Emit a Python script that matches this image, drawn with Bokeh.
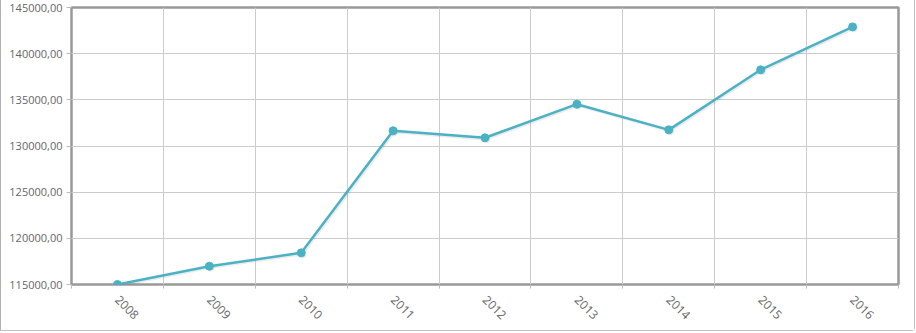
from bokeh.plotting import figure
from bokeh.layouts import column
from bokeh.models import Range1d, FixedTicker, ColumnDataSource
from bokeh.transform import dodge
from bokeh.embed import file_html
from bokeh.resources import INLINE
import math

years = ["2008", "2009", "2010", "2011", "2012", "2013", "2014", "2015", "2016"]
values = [115000, 116980, 118430, 131650, 130890, 134530, 131750, 138250, 142900]
y_ticks = [115000, 120000, 125000, 130000, 135000, 140000, 145000]
y_tick_labels = ["115000,00", "120000,00", "125000,00", "130000,00", "135000,00", "140000,00", "145000,00"]

n = len(years)
xs = list(range(n))
src = ColumnDataSource(dict(x=xs, y=values))

p = figure(width=913, height=330, output_backend="svg", toolbar_location=None,
           x_range=Range1d(-0.5, n - 0.5), y_range=Range1d(y_ticks[0], y_ticks[-1]),
           min_border_left=70, min_border_right=16, min_border_top=7, min_border_bottom=46)
p.frame_width = 827
p.frame_height = 277
p.background_fill_color = "white"
p.border_fill_color = "white"
p.outline_line_color = "#999999"
p.outline_line_width = 2.5

# x axis
p.xaxis.ticker = FixedTicker(ticks=xs, minor_ticks=[i - 0.5 for i in range(n + 1)])
p.xaxis.major_label_overrides = {i: years[i] for i in xs}
p.xaxis.major_label_orientation = -math.pi / 4
p.xaxis.major_tick_line_color = None
p.xaxis.minor_tick_line_color = "#bbbbbb"
p.xaxis.minor_tick_out = 4
p.xaxis.minor_tick_in = 0
p.xaxis.axis_line_color = None
p.xaxis.major_label_text_font = "Open Sans"
p.xaxis.major_label_text_font_size = "12px"
p.xaxis.major_label_text_color = "#666666"
p.xaxis.major_label_standoff = 7
p.xgrid.ticker = FixedTicker(ticks=[i - 0.5 for i in range(n + 1)])
p.xgrid.grid_line_color = "#cccccc"

# y axis
p.yaxis.ticker = FixedTicker(ticks=y_ticks)
p.yaxis.major_label_overrides = {t: l for t, l in zip(y_ticks, y_tick_labels)}
p.yaxis.major_tick_line_color = "#bbbbbb"
p.yaxis.major_tick_out = 5
p.yaxis.major_tick_in = 0
p.yaxis.minor_tick_line_color = None
p.yaxis.axis_line_color = None
p.yaxis.major_label_text_font = "Open Sans"
p.yaxis.major_label_text_font_size = "11px"
p.yaxis.major_label_text_color = "#666666"
p.yaxis.major_label_standoff = 4
p.ygrid.grid_line_color = "#cccccc"

# soft shadow
p.line(x=dodge("x", 0.014, range=p.x_range), y=dodge("y", -150, range=p.y_range), source=src,
       line_color="#000000", line_alpha=0.08, line_width=2.5)
p.scatter(x=dodge("x", 0.014, range=p.x_range), y=dodge("y", -150, range=p.y_range), source=src,
          size=8, fill_color="#000000", fill_alpha=0.08, line_color=None)

p.line("x", "y", source=src, line_color="#4bb2c5", line_width=2.5)
p.scatter("x", "y", source=src, size=8, fill_color="#4bb2c5", line_color="#4bb2c5")

layout = column(p, styles={"border-left": "1px solid #b0b0b0", "border-bottom": "1px solid #c0c0c0",
                           "border-right": "1px solid #c0c0c0", "border-bottom-right-radius": "4px"})

open("out.html", "w").write(file_html(layout, INLINE))
